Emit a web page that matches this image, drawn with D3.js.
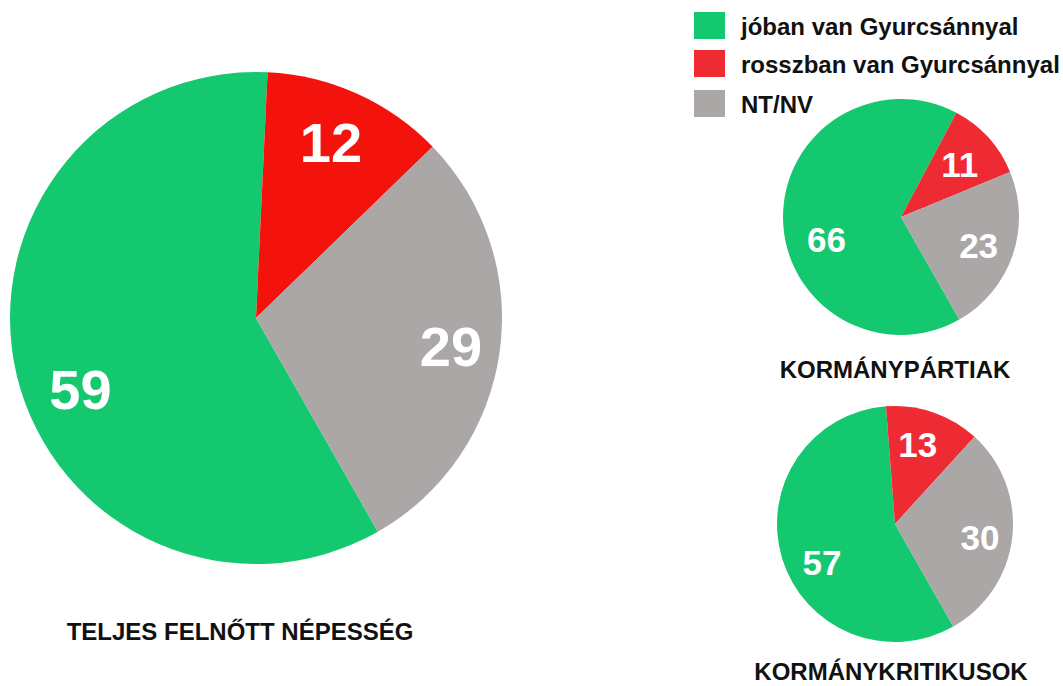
<!DOCTYPE html>
<html>
<head>
<meta charset="utf-8">
<script src="https://cdn.jsdelivr.net/npm/d3@7"></script>
<style>
  body { margin: 0; background: #fff; }
  text { font-family: "Liberation Sans", Arial, sans-serif; font-weight: bold; }
</style>
</head>
<body>
<div id="wrapper"></div>
<script>
// data
const categories = ['jóban van Gyurcsánnyal', 'rosszban van Gyurcsánnyal', 'NT/NV'];
const groups = ['TELJES FELNŐTT NÉPESSÉG', 'KORMÁNYPÁRTIAK', 'KORMÁNYKRITIKUSOK'];
const valuesTotal = [59, 12, 29];
const valuesGov = [66, 11, 23];
const valuesCritic = [57, 13, 30];

// layout of the three pies
const pies = [
  { title: groups[0], values: valuesTotal, cx: 256, cy: 318, r: 246, start: 150.3,
    red: '#f4130c', fontSize: 56, labelAngles: [248, 23, 98], labelR: [0.77, 0.78, 0.8], titleY: 640, titleX: 240, titleSize: 24 },
  { title: groups[1], values: valuesGov, cx: 901, cy: 217, r: 118, start: 150.4,
    red: '#ee2b33', fontSize: 35, labelAngles: [253, 48, 110], labelR: [0.66, 0.67, 0.7], titleY: 378, titleX: 895, titleSize: 24 },
  { title: groups[2], values: valuesCritic, cx: 895, cy: 524, r: 118, start: 150.4,
    red: '#ee2b33', fontSize: 35, labelAngles: [242, 16, 99], labelR: [0.7, 0.7, 0.73], titleY: 680, titleX: 891, titleSize: 24 }
];

const width = 1063, height = 686;
const svg = d3.select('#wrapper').append('svg')
  .attr('width', width)
  .attr('height', height);

const green = '#13c86e', grey = '#aba7a7';

pies.forEach(p => {
  const color = d3.scaleOrdinal().domain(categories).range([green, p.red, grey]);
  const rad = d => d * Math.PI / 180;
  const pie = d3.pie().sort(null).value(d => d.v)
    .startAngle(rad(p.start)).endAngle(rad(p.start + 360));
  const arc = d3.arc().innerRadius(0).outerRadius(p.r);
  const data = pie(p.values.map((v, i) => ({ v: v, cat: categories[i] })));

  const g = svg.append('g').attr('transform', `translate(${p.cx},${p.cy})`);
  g.selectAll('path').data(data).enter().append('path')
    .attr('d', arc)
    .attr('fill', d => color(d.data.cat));

  // data labels
  g.selectAll('.lbl').data(data).enter().append('text')
    .attr('class', 'lbl')
    .attr('x', (d, i) => Math.sin(rad(p.labelAngles[i])) * p.r * p.labelR[i])
    .attr('y', (d, i) => -Math.cos(rad(p.labelAngles[i])) * p.r * p.labelR[i])
    .attr('dy', '0.36em')
    .attr('text-anchor', 'middle')
    .attr('fill', '#fff')
    .style('font-size', p.fontSize + 'px')
    .text(d => d.data.v);

  svg.append('text')
    .attr('x', p.titleX)
    .attr('y', p.titleY)
    .attr('text-anchor', 'middle')
    .attr('fill', '#111')
    .style('font-size', p.titleSize + 'px')
    .text(p.title);
});

// legend
const legend = svg.append('g').attr('transform', 'translate(694,12)');
const legendColors = [green, '#ee2b33', grey];
const item = legend.selectAll('g').data(categories).enter().append('g')
  .attr('transform', (d, i) => `translate(0,${[0, 38, 78][i]})`);
item.append('rect')
  .attr('width', 31).attr('height', 27)
  .attr('fill', (d, i) => legendColors[i]);
item.append('text')
  .attr('x', 47).attr('y', 23)
  .attr('fill', '#111')
  .style('font-size', '24px')
  .text(d => d);
</script>
</body>
</html>
